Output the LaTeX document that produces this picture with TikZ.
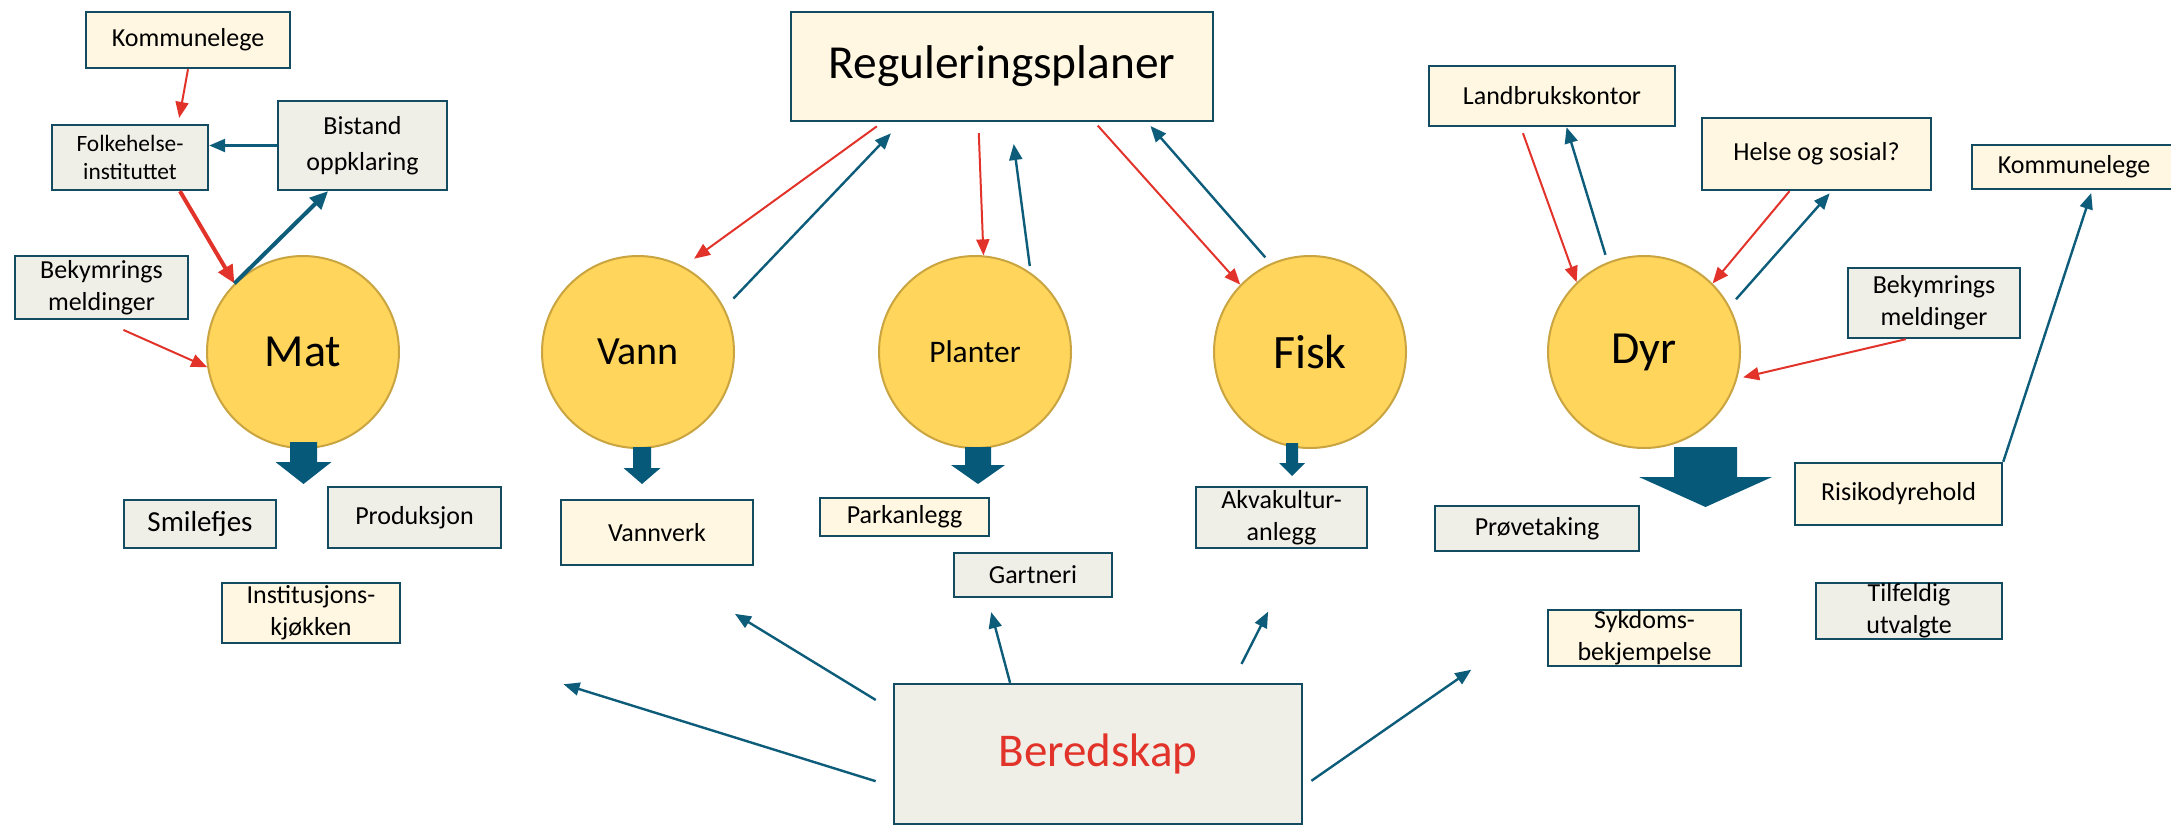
\documentclass[tikz,border=0pt]{standalone}
\usepackage{fontspec}
\setmainfont{Carlito}
\usetikzlibrary{arrows.meta}
\definecolor{cream}{HTML}{FFF7E1}
\definecolor{boxgray}{HTML}{EFEEE7}
\definecolor{boxline}{HTML}{134B61}
\definecolor{disc}{HTML}{FFD55B}
\definecolor{discline}{HTML}{C9A440}
\definecolor{redline}{HTML}{E2332A}
\definecolor{tealline}{HTML}{0D5C7A}
\definecolor{bigteal}{HTML}{07597A}
\begin{document}
\begin{tikzpicture}[x=0.5pt,y=-0.5pt,
  box/.style={draw=boxline,line width=1.2pt,inner sep=0pt,align=center,font=\fontsize{13}{16}\selectfont},
  cbox/.style={box,fill=cream},
  gbox/.style={box,fill=boxgray},
  area/.style={circle,draw=discline,fill=disc,line width=1pt,minimum size=96pt,inner sep=0pt},
  redarrow/.style={draw=redline,line width=1pt,-{Triangle[length=8pt,width=6.5pt]}},
  bluearrow/.style={draw=tealline,line width=1.2pt,-{Triangle[length=8pt,width=6.5pt]}},
  thick arrow/.style={line width=2pt,-{Triangle[length=9pt,width=8pt]}}]
\def\blockarrow#1#2#3#4#5#6{\fill[bigteal] (#1-#3,#2) -- (#1+#3,#2) -- (#1+#3,#5) -- (#1+#4,#5) -- (#1,#6) -- (#1-#4,#5) -- (#1-#3,#5) -- cycle;}
\useasboundingbox (0,0) rectangle (2171,826);
\node[cbox,minimum width=102pt,minimum height=28pt] (kom1) at (188,40) {Kommunelege};
\node[gbox,minimum width=78pt,minimum height=32.5pt,font=\fontsize{11.7}{14}\selectfont] (fhi) at (130,157.5) {Folkehelse-\\instituttet};
\node[gbox,minimum width=84.5pt,minimum height=44.5pt,font=\fontsize{13}{18}\selectfont] (bist) at (362.5,145.5) {Bistand\\oppklaring};
\node[gbox,minimum width=86.5pt,minimum height=31.5pt] (bek1) at (101.5,287.5) {Bekymrings\\meldinger};
\node[cbox,minimum width=211pt,minimum height=54.5pt,font=\fontsize{23.7}{28}\selectfont] (reg) at (1002,66.5) {Reguleringsplaner};
\node[cbox,minimum width=123pt,minimum height=30pt] (land) at (1552,96) {Landbrukskontor};
\node[cbox,minimum width=114.5pt,minimum height=36pt] (helse) at (1816.5,154) {Helse og sosial?};
\node[cbox,minimum width=102pt,minimum height=22pt] (kom2) at (2074,167) {Kommunelege};
\node[gbox,minimum width=86pt,minimum height=35pt] (bek2) at (1934,303) {Bekymrings\\meldinger};

\node[area,font=\fontsize{23}{28}\selectfont] (mat) at (303,352) {Mat};
\node[area,font=\fontsize{20}{24}\selectfont] (vann) at (638,352) {Vann};
\node[area,font=\fontsize{15.7}{19}\selectfont] (planter) at (975,352) {Planter};
\node[area,font=\fontsize{24}{28}\selectfont] (fisk) at (1310,352) {Fisk};
\node[area,font=\fontsize{23}{28}\selectfont] (dyr) at (1644,352) {Dyr};

\blockarrow{303.5}{442}{13.5}{28}{462}{484}
\blockarrow{642}{447}{9}{18.5}{468}{484}
\blockarrow{978}{447}{13}{27}{465}{484}
\blockarrow{1292}{443}{6}{13}{463}{476}
\blockarrow{1705.5}{447}{31.5}{66.5}{477}{507}

\node[gbox,minimum width=76pt,minimum height=24pt,font=\fontsize{14.5}{17}\selectfont] (smil) at (200,524) {Smilefjes};
\node[gbox,minimum width=86.5pt,minimum height=30.5pt] (prod) at (414.5,517.5) {Produksjon};
\node[cbox,minimum width=89pt,minimum height=30pt] (inst) at (311,613) {Institusjons-\\kjøkken};
\node[cbox,minimum width=96pt,minimum height=32.5pt] (vv) at (657,532.5) {Vannverk};
\node[cbox,minimum width=84.5pt,minimum height=19pt] (park) at (904.5,517) {Parkanlegg};
\node[gbox,minimum width=79pt,minimum height=22pt] (gart) at (1033,575) {Gartneri};
\node[gbox,minimum width=85.5pt,minimum height=30.5pt] (akva) at (1281.5,517.5) {Akvakultur-\\anlegg};
\node[gbox,minimum width=102pt,minimum height=22.5pt] (prove) at (1537,528.5) {Prøvetaking};
\node[cbox,minimum width=103.5pt,minimum height=31pt] (risk) at (1898.5,494) {Risikodyrehold};
\node[cbox,minimum width=96.5pt,minimum height=28pt] (syk) at (1644.5,638) {Sykdoms-\\bekjempelse};
\node[gbox,minimum width=93pt,minimum height=28pt] (tilf) at (1909,611) {Tilfeldig\\utvalgte};
\node[gbox,minimum width=204pt,minimum height=70pt,font=\fontsize{23.5}{28}\selectfont,text=redline] (bered) at (1098,754) {Beredskap};

\draw[redarrow,shorten >=3pt] (kom1.south) -- (fhi.35);
\draw[bluearrow] (bist.west) -- (bist.west -| fhi.east);
\draw[redarrow,thick arrow] (fhi.-34) -- (mat.135);
\draw[bluearrow,thick arrow] (mat.135) -- (bist.233);
\draw[redarrow,shorten <=12pt] (bek1.south) -- (mat.189);

\draw[redarrow,shorten <=3.5pt,shorten >=6.5pt] (reg.205) -- (vann.62);
\draw[bluearrow,shorten <=6.5pt,shorten >=7.7pt] (vann.27) -- (reg.209);
\draw[redarrow,shorten <=5.5pt] (reg.247) -- (planter.85);
\draw[bluearrow,shorten <=3.3pt,shorten >=11pt] (planter.55) -- (reg.279);
\draw[redarrow,shorten <=2.3pt] (reg.329) -- (fisk.136);
\draw[bluearrow,shorten <=4pt,shorten >=2.5pt] (fisk.114) -- (reg.339);

\draw[redarrow,shorten <=3.2pt] (land.225) -- (dyr.134);
\draw[bluearrow,shorten <=3.8pt] (dyr.112) -- (land.295);
\draw[redarrow] (helse.234) -- (dyr.45);
\draw[bluearrow,shorten <=4.8pt,shorten >=1.4pt] (dyr.28) -- (helse.292);
\draw[redarrow,shorten >=3pt] (bek2.232) -- (dyr.344);
\draw[bluearrow,shorten >=1.5pt] (risk.north east) -- (kom2.308);

\draw[bluearrow,shorten <=10pt,shorten >=45.7pt] (bered.168) -- (vv.south);
\draw[bluearrow,shorten <=9pt,shorten >=85pt] (bered.189) -- (inst.347);
\draw[bluearrow,shorten >=7.2pt] (bered.141) -- (gart.207);
\draw[bluearrow,shorten <=10.6pt,shorten >=35pt] (bered.28) -- (akva.300);
\draw[bluearrow,shorten <=5pt,shorten >=46pt] (bered.351) -- (syk.168);
\end{tikzpicture}
\end{document}
